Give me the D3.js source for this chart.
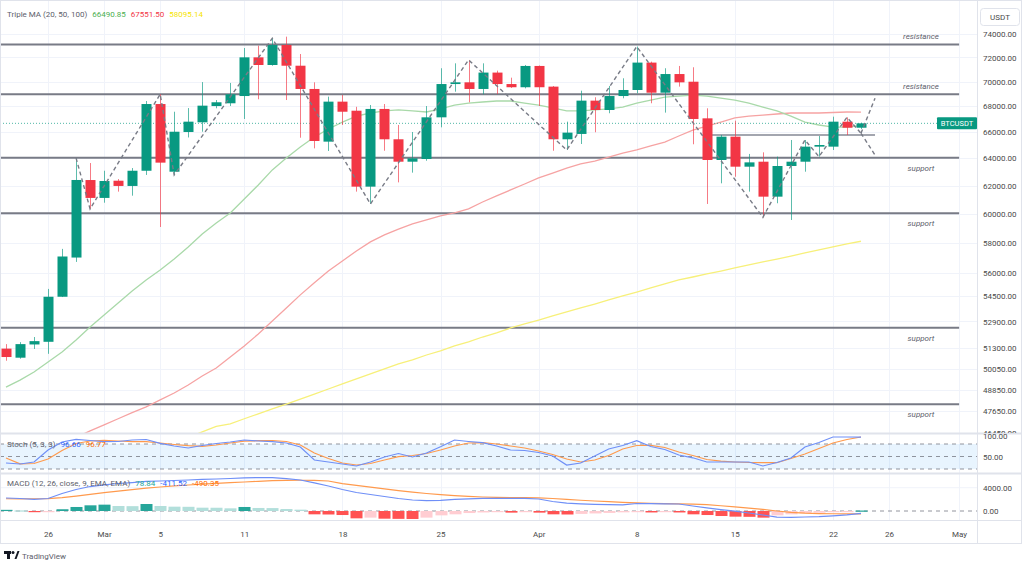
<!DOCTYPE html>
<html lang="en">
<head>
<meta charset="UTF-8">
<title>BTCUSDT daily - Triple MA, Stoch, MACD</title>
<script src="https://d3js.org/d3.v7.min.js"></script>
<style>
  body { margin: 0; background: #fff; }
  svg { display: block; font-family: Roboto, "Liberation Sans", sans-serif; }
  .lvl { font-size: 8px; font-style: italic; fill: #5d606b; }
  .legend { font-size: 8px; fill: #5d606b; }
</style>
</head>
<body>
<svg id="chart" width="1024" height="567"></svg>
<script>
// ---- data (daily candles from 23 Feb 2024) ----
const firstDay = Date.UTC(2024, 1, 23);

const open = [51250,50710,51500,51660,54450,57000,62400,61110,62350,61970,
  63080,68190,63010,66000,66750,68030,68250,68830,72010,71370,
  73056,71310,69400,65260,68380,67660,61920,67800,65440,63750,
  63950,67140,69800,69940,69400,70740,69800,69540,71290,69590,
  65440,65850,68460,67717,68830,69317,71570,69100,70620,69990,
  67060,63877,65640,63380,63750,61200,63430,63750,64880,64880,
  66800,66330];
const high = [51520,51640,51950,54950,57580,64020,63650,63080,62470,63280,
  68430,68970,67580,67870,69960,68510,69890,72800,73000,73630,
  73770,72290,69940,68780,68913,67970,68113,68190,66540,66000,
  68030,71100,71510,71790,71510,70900,70320,71370,71330,69640,
  66800,69260,68730,69640,70270,72920,71650,71100,71290,71180,
  67850,65770,66880,64330,64450,64130,65386,65386,65690,67190,
  67140,66720];
const low = [50530,50650,51230,50940,54430,56710,60330,60770,61560,61270,
  62770,59070,62770,65580,66020,67850,68030,67010,68570,71310,
  68510,65560,64750,64550,66540,61560,60680,64570,62230,62940,
  63820,66360,69180,68330,68970,68990,69480,69450,68030,64570,
  64626,65080,65980,67460,68650,69050,68250,67510,69590,65060,
  60680,62160,62640,61560,59740,60730,59556,63010,64130,64626,
  65768,66230];
const close = [50750,51520,51700,54450,57070,62403,61110,62330,61970,63080,
  68190,63680,66020,66800,68060,68330,68970,72010,71370,73056,
  71310,69400,65310,68380,67580,61920,67800,65440,63750,64000,
  67140,69800,69940,69400,70740,69800,69540,71290,69540,65440,
  65950,68460,67717,68830,69317,71570,69100,70620,69940,67010,
  63877,65640,63380,63700,61200,63430,63750,64880,65005,66800,
  66330,66670];

const ma20 = [49000,49400,49870,50460,51050,51770,52560,53300,54060,54820,
  55530,56180,56900,57710,58590,59350,60040,61030,62040,63140,
  64030,64860,65610,66230,66770,67240,67480,67640,67720,67640,
  67560,67800,68110,68270,68350,68430,68430,68270,68110,67880,
  67640,67640,67720,67800,67950,68270,68510,68750,68830,68910,
  68830,68670,68510,68270,67950,67640,67240,66770,66540,66380,
  66380,66490.85];
const ma50 = [null,null,null,null,null,46200,46560,46880,47220,47560,
  47880,48270,48660,49120,49640,50100,50750,51410,52130,52930,
  53740,54570,55350,56110,56770,57440,58050,58530,58930,59280,
  59560,59840,60050,60330,60820,61250,61680,62110,62550,62910,
  63280,63580,63800,64100,64400,64630,64930,65230,65690,66150,
  66460,66770,67090,67240,67320,67400,67480,67480,67480,67520,
  67560,67551.5];
const ma100 = [null,null,null,null,null,null,null,null,null,null,
  null,null,null,46200,46500,46800,46940,47220,47490,47770,
  48040,48320,48600,48890,49180,49470,49760,50050,50340,50575,
  50870,51110,51410,51650,51950,52200,52500,52750,52990,53240,
  53490,53740,53990,54245,54500,54750,55010,55270,55530,55720,
  55920,56110,56310,56510,56710,56900,57100,57310,57506,57710,
  57910,58095.14];

const stochK = [34.4,32,36.8,65.6,84.8,91.3,88.4,85.5,86,89.6,
  90.8,81.7,75.2,70.4,76.4,81.2,84.8,89.6,87.2,85.5,
  82.4,72.8,41.6,36.8,32,27.2,36.8,48.8,57.2,48.8,
  58.4,73.5,89.6,86,83.1,75.2,65.6,64.4,59.6,51.2,
  29.6,34.4,51.2,68,76.4,87.9,74,66.8,53.6,46.9,
  36.8,36.8,36.8,36.8,27.2,35.6,46.4,72.8,83.6,96.8,
  96.8,96.66];
const stochD = [46.4,32.5,33.2,44,64.4,81.2,87.2,88.9,87.2,85.5,
  85.5,82.4,78.8,75.9,74.5,77.6,82.4,86.7,87.9,87.9,
  86,77.6,58.4,45.2,34.4,29.6,33.2,41.6,49.5,52.4,
  57.2,65.6,75.2,82.4,83.1,80,75.2,70.4,63.2,54.8,
  44,36.8,41.6,52.4,68,76.4,76.9,71.6,60.8,52.4,
  42.8,38.7,36.8,35.6,35.1,35.1,45.2,56,69.2,82.4,
  90.8,96.77];

const macdLine = [2230,2150,2010,2150,3000,3690,4200,4500,4720,4880,
  5070,5150,5240,5320,5440,5490,5580,5700,5720,5720,
  5550,5320,4840,4290,3690,3180,2830,2490,2150,1890,
  1770,1840,2010,2090,2160,2180,2180,2180,2060,1630,
  1340,1240,1150,1080,1060,1290,1270,1240,1200,860,
  550,240,-30,-340,-690,-1060,-1080,-1030,-960,-820,
  -650,-411.52];
const signalLine = [2100,2080,2100,2130,2300,2550,2850,3150,3420,3680,
  3920,4120,4300,4460,4610,4740,4860,4980,5100,5200,
  5270,5280,5250,5150,4700,4400,4100,3800,3500,3250,
  3000,2800,2650,2500,2400,2350,2300,2280,2250,2150,
  2000,1850,1720,1600,1480,1380,1320,1270,1230,1180,
  1100,900,700,500,280,0,-250,-380,-440,-470,
  -485,-490.35];
const histogram = [200,100,-150,-20,300,690,975,1090,860,830,
  1200,860,745,720,570,560,460,690,520,500,
  340,230,-570,-600,-690,-1260,-1140,-1320,-1350,-1370,
  -1140,-750,-570,-350,-250,-100,-280,-150,-280,-570,
  -600,-500,-420,-330,-230,-100,-250,-150,-250,-570,
  -690,-860,-970,-1000,-1140,-750,-570,-400,-300,-150,
  -60,78.84];

// zigzag pivots (day index, price) and the two projected legs
const zigIdx = [5,6,11,12,19,26,33,40,45,54,57,58,60,61];
const zigPrice = [64020,60330,68970,62770,73630,60680,71790,64626,72920,59740,65386,64130,67140,65900];
const projIdx = 62;
const projPrices = [68650, 64250];

// horizontal levels
const levelPrices = [73100, 68970, 64050, 60020, 52520, 48030];
const levelLabels = ["resistance","resistance","support","support","support","support"];
const rangeLine = { from: 50.65, to: 62, price: 65770 };

// axis ticks
const priceTicks = [74000,72000,70000,68000,66000,64000,62000,60000,58000,56000,54500,52900,51300,50050,48850,47650,46450];
const timeTicks = [[2024,1,26],[2024,2,1],[2024,2,5],[2024,2,11],[2024,2,18],[2024,2,25],[2024,3,1],[2024,3,8],[2024,3,15],[2024,3,22],[2024,3,26],[2024,4,1]];
const timeLabels = ["26","Mar","5","11","18","25","Apr","8","15","22","26","May"];
const stochTicks = [100, 50];
const macdTicks = [4000, 0];

// ---- layout ----
const svg = d3.select("#chart");
const plotW = 977;
const mainBot = 433, stochBot = 473, macdBot = 520, axisBot = 543;
const green = "#089981", red = "#f23645";

const day = i => d3.utcDay.offset(new Date(firstDay), i);
const x = d3.scaleUtc().domain([day(0), day(61)]).range([6, 861]);
const y = d3.scaleLog().domain([47650, 74000]).range([411, 34]);
const yS = d3.scaleLinear().domain([20, 80]).range([469, 444]);
const yM = d3.scaleLinear().domain([0, 4000]).range([511, 487.7]);
const xi = i => x(day(i));

const defs = svg.append("defs");
// axis clips are in the axis group's own (translated) coordinates
[["clipMain", 0, 0, plotW, mainBot], ["clipStoch", 0, mainBot, plotW, stochBot - mainBot],
 ["clipMacd", 0, stochBot, plotW, macdBot - stochBot],
 ["clipMainAxis", 0, 0, 60, mainBot], ["clipStochAxis", 0, mainBot + 1, 60, stochBot - mainBot - 1]]
  .forEach(([id, x0, y0, w, h]) => defs.append("clipPath").attr("id", id)
    .append("rect").attr("x", x0).attr("y", y0).attr("width", w).attr("height", h));

// grid
const grid = svg.append("g");
timeTicks.forEach(t => {
  const gx = Math.round(x(new Date(Date.UTC(...t)))) + 0.5;
  grid.append("line").attr("x1", gx).attr("x2", gx).attr("y1", 0).attr("y2", macdBot)
    .attr("stroke", "#f0f3fa");
});
priceTicks.forEach(p => {
  const gy = Math.round(y(p)) + 0.5;
  grid.append("line").attr("x1", 0).attr("x2", plotW).attr("y1", gy).attr("y2", gy)
    .attr("stroke", "#f0f3fa");
});
grid.append("line").attr("x1", 0).attr("x2", plotW).attr("y1", yM(4000)).attr("y2", yM(4000))
  .attr("stroke", "#f0f3fa");

// ---- main pane ----
const main = svg.append("g").attr("clip-path", "url(#clipMain)");

// support / resistance
levelPrices.forEach((p, i) => {
  main.append("line").attr("x1", 0).attr("x2", x(day(68))).attr("y1", y(p)).attr("y2", y(p))
    .attr("stroke", "#787b86").attr("stroke-width", 2);
  main.append("text").attr("class", "lvl").attr("text-anchor", "middle")
    .attr("x", 921).attr("y", levelLabels[i] === "resistance" ? y(p) - 5 : y(p) + 13)
    .text(levelLabels[i]);
});
main.append("line")
  .attr("x1", xi(rangeLine.from)).attr("x2", xi(rangeLine.to))
  .attr("y1", y(rangeLine.price)).attr("y2", y(rangeLine.price))
  .attr("stroke", "#a3a6af").attr("stroke-width", 2);

// moving averages
const maLine = d3.line().defined(d => d != null).x((d, i) => xi(i)).y(d => y(d));
[[ma100, "#f7f07a"], [ma50, "#f6a3a3"], [ma20, "#a9d9a9"]].forEach(([s, c]) => {
  main.append("path").datum(s).attr("d", maLine).attr("fill", "none")
    .attr("stroke", c).attr("stroke-width", 1.3);
});

// last price line
const lastY = y(close[close.length - 1]);
main.append("line").attr("x1", 0).attr("x2", 937).attr("y1", lastY).attr("y2", lastY)
  .attr("stroke", green).attr("stroke-dasharray", "1 2").attr("opacity", 0.7);

// candles
const candles = main.append("g").selectAll("g").data(open).join("g");
candles.append("line")
  .attr("x1", (d, i) => Math.round(xi(i)) + 0.5).attr("x2", (d, i) => Math.round(xi(i)) + 0.5)
  .attr("y1", (d, i) => y(high[i])).attr("y2", (d, i) => y(low[i]))
  .attr("stroke", (d, i) => close[i] >= open[i] ? green : red).attr("opacity", 0.65);
candles.append("rect")
  .attr("x", (d, i) => Math.round(xi(i)) - 4.5).attr("width", 10)
  .attr("y", (d, i) => y(Math.max(open[i], close[i])))
  .attr("height", (d, i) => Math.max(1.5, Math.abs(y(open[i]) - y(close[i]))))
  .attr("fill", (d, i) => close[i] >= open[i] ? green : red);

// zigzag
const zig = zigIdx.map((d, i) => [xi(d), y(zigPrice[i])]);
const dash = { stroke: "#787b86", "stroke-width": 1.4, "stroke-dasharray": "4 3", fill: "none" };
const zz = main.append("path").attr("d", d3.line()(zig));
Object.entries(dash).forEach(([k, v]) => zz.attr(k, v));
projPrices.forEach(p => {
  const pr = main.append("path").attr("d", d3.line()([zig[zig.length - 1], [xi(projIdx), y(p)]]));
  Object.entries(dash).forEach(([k, v]) => pr.attr(k, v));
});

// last price tag
svg.append("rect").attr("x", 937).attr("y", lastY - 6).attr("width", 40).attr("height", 12)
  .attr("rx", 1).attr("fill", green);
svg.append("text").attr("x", 957).attr("y", lastY + 3).attr("text-anchor", "middle")
  .attr("font-size", 7.5).attr("fill", "#fff").text("BTCUSDT");

// ---- stochastic pane ----
const st = svg.append("g").attr("clip-path", "url(#clipStoch)");
st.append("rect").attr("x", 0).attr("width", plotW).attr("y", yS(80)).attr("height", yS(20) - yS(80))
  .attr("fill", "rgba(33,150,243,0.1)");
[80, 50, 20].forEach(v => st.append("line").attr("x1", 0).attr("x2", plotW)
  .attr("y1", yS(v)).attr("y2", yS(v)).attr("stroke", "#787b86").attr("stroke-dasharray", "4 4")
  .attr("opacity", 0.8));
const sLine = d3.line().x((d, i) => xi(i)).y(d => yS(d));
st.append("path").datum(stochD).attr("d", sLine).attr("fill", "none").attr("stroke", "#ff9a4d").attr("stroke-width", 1.2);
st.append("path").datum(stochK).attr("d", sLine).attr("fill", "none").attr("stroke", "#6f8ff7").attr("stroke-width", 1.2);

// ---- MACD pane ----
const mc = svg.append("g").attr("clip-path", "url(#clipMacd)");
mc.append("line").attr("x1", 0).attr("x2", plotW).attr("y1", yM(0)).attr("y2", yM(0))
  .attr("stroke", "#787b86").attr("stroke-dasharray", "4 4").attr("opacity", 0.8);
mc.selectAll("rect.h").data(histogram).join("rect").attr("class", "h")
  .attr("x", (d, i) => Math.round(xi(i)) - 5.5).attr("width", 12)
  .attr("y", d => Math.min(yM(d), yM(0)))
  .attr("height", d => Math.max(1.2, Math.abs(yM(d) - yM(0))))
  .attr("fill", (d, i) => {
    const prev = i > 0 ? histogram[i - 1] : d;
    if (d >= 0) return d >= prev ? "#26a69a" : "#b2dfdb";
    return d <= prev ? "#ff5252" : "#ffcdd2";
  });
const mLine = d3.line().x((d, i) => xi(i)).y(d => yM(d));
mc.append("path").datum(signalLine).attr("d", mLine).attr("fill", "none").attr("stroke", "#ff9a4d").attr("stroke-width", 1.2);
mc.append("path").datum(macdLine).attr("d", mLine).attr("fill", "none").attr("stroke", "#6f8ff7").attr("stroke-width", 1.2);

// ---- frame and separators ----
[mainBot, stochBot, macdBot].forEach(sy => svg.append("line").attr("x1", 0).attr("x2", 1022)
  .attr("y1", sy + 0.5).attr("y2", sy + 0.5).attr("stroke", "#e0e3eb").attr("stroke-width", sy === macdBot ? 1 : 2));
svg.append("line").attr("x1", plotW + 0.5).attr("x2", plotW + 0.5).attr("y1", 0).attr("y2", axisBot)
  .attr("stroke", "#e0e3eb");
svg.append("rect").attr("x", 0.5).attr("y", 0.5).attr("width", 1021).attr("height", axisBot)
  .attr("fill", "none").attr("stroke", "#e0e3eb");

// ---- axes ----
function styleAxis(g) {
  g.select(".domain").remove();
  g.selectAll("line").remove();
  g.attr("font-family", null).attr("font-size", 8);
  g.selectAll("text").attr("fill", "#4a4a4a");
}
svg.append("g").attr("transform", `translate(${plotW},0)`)
  .append("g").attr("clip-path", "url(#clipMainAxis)")
  .call(d3.axisRight(y).tickValues(priceTicks).tickFormat(d3.format(".2f")).tickSize(0).tickPadding(6))
  .call(styleAxis);
svg.append("g").attr("transform", `translate(${plotW},0)`)
  .append("g").attr("clip-path", "url(#clipStochAxis)")
  .call(d3.axisRight(yS).tickValues(stochTicks).tickFormat(d3.format(".2f")).tickSize(0).tickPadding(6))
  .call(styleAxis);
svg.append("g").attr("transform", `translate(${plotW},0)`)
  .call(d3.axisRight(yM).tickValues(macdTicks).tickFormat(d3.format(".2f")).tickSize(0).tickPadding(6))
  .call(styleAxis);
svg.append("g").attr("transform", `translate(0,${macdBot})`)
  .call(d3.axisBottom(x).tickValues(timeTicks.map(t => new Date(Date.UTC(...t))))
    .tickFormat((d, i) => timeLabels[i]).tickSize(0).tickPadding(11))
  .call(styleAxis);

// currency box
svg.append("rect").attr("x", 980.5).attr("y", 8.5).attr("width", 39).attr("height", 17).attr("rx", 3)
  .attr("fill", "#fff").attr("stroke", "#e0e3eb");
svg.append("text").attr("x", 1000).attr("y", 20).attr("text-anchor", "middle")
  .attr("font-size", 8).attr("fill", "#4a4a4a").text("USDT");

// ---- legends ----
function legend(yPos, title, values) {
  const t = svg.append("text").attr("class", "legend").attr("x", 7).attr("y", yPos);
  t.append("tspan").text(title);
  values.forEach(([v, c]) => t.append("tspan").attr("dx", 5).attr("fill", c).text(v));
}
legend(17, "Triple MA (20, 50, 100)", [["66490.85", "#4caf50"], ["67551.50", "#f23645"], ["58095.14", "#f5e400"]]);
legend(447, "Stoch (5, 3, 3)", [["96.66", "#2962ff"], ["96.77", "#ff6d00"]]);
legend(486, "MACD (12, 26, close, 9, EMA, EMA)", [["78.84", "#26a69a"], ["-411.52", "#2962ff"], ["-490.35", "#ff6d00"]]);

// TradingView mark
const logo = svg.append("g").attr("fill", "#131722");
logo.append("rect").attr("x", 4).attr("y", 551).attr("width", 7).attr("height", 3);
logo.append("rect").attr("x", 7).attr("y", 551).attr("width", 3).attr("height", 8);
logo.append("circle").attr("cx", 13).attr("cy", 552.5).attr("r", 1.5);
logo.append("path").attr("d", "M14.5,559 L17.5,551 L19.5,551 L16.5,559 Z");
svg.append("text").attr("x", 22).attr("y", 558.5).attr("font-size", 8).attr("fill", "#5d606b").text("TradingView");
</script>
</body>
</html>
